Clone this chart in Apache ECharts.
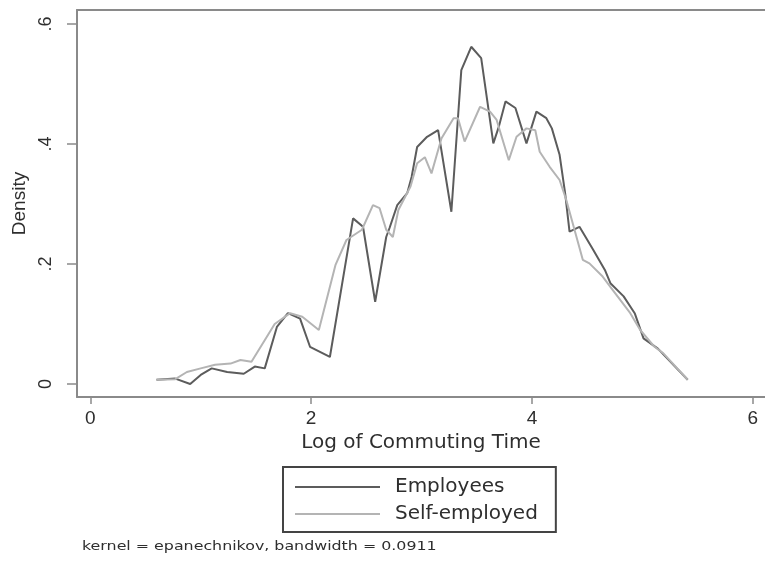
<!DOCTYPE html>
<html>
<head>
<meta charset="utf-8">
<script src="https://cdn.jsdelivr.net/npm/echarts@6/dist/echarts.min.js"></script>
<style>
  html, body { margin: 0; padding: 0; background: #fff; }
  #chart { width: 765px; height: 568px; }
</style>
</head>
<body>
<div id="chart"></div>
<script>
// data
var empX = [0.60, 0.77, 0.905, 1.00, 1.10, 1.24, 1.39, 1.49, 1.58, 1.69, 1.79, 1.90, 1.99, 2.17, 2.38, 2.47, 2.58, 2.68, 2.71, 2.78, 2.87, 2.91, 2.96, 3.05, 3.15, 3.27, 3.36, 3.45, 3.54, 3.65, 3.70, 3.76, 3.85, 3.95, 4.04, 4.13, 4.18, 4.25, 4.30, 4.34, 4.43, 4.55, 4.66, 4.71, 4.83, 4.93, 5.01, 5.14, 5.41];
var empY = [0.007, 0.009, 0.000, 0.015, 0.026, 0.020, 0.017, 0.029, 0.026, 0.095, 0.118, 0.109, 0.062, 0.045, 0.276, 0.262, 0.137, 0.245, 0.260, 0.298, 0.318, 0.345, 0.395, 0.412, 0.423, 0.287, 0.523, 0.562, 0.543, 0.401, 0.429, 0.471, 0.460, 0.401, 0.454, 0.443, 0.426, 0.382, 0.318, 0.254, 0.262, 0.225, 0.190, 0.168, 0.146, 0.118, 0.076, 0.059, 0.007];

var selfX = [0.60, 0.77, 0.875, 1.00, 1.13, 1.27, 1.36, 1.46, 1.57, 1.67, 1.81, 1.92, 2.07, 2.22, 2.32, 2.46, 2.56, 2.62, 2.68, 2.74, 2.79, 2.90, 2.96, 3.03, 3.09, 3.18, 3.29, 3.33, 3.39, 3.53, 3.62, 3.68, 3.79, 3.86, 3.95, 4.03, 4.07, 4.16, 4.25, 4.31, 4.46, 4.52, 4.64, 4.73, 4.89, 4.98, 5.11, 5.19, 5.41];
var selfY = [0.007, 0.008, 0.020, 0.026, 0.032, 0.034, 0.040, 0.037, 0.070, 0.100, 0.118, 0.112, 0.090, 0.198, 0.240, 0.257, 0.298, 0.293, 0.257, 0.245, 0.290, 0.329, 0.368, 0.378, 0.351, 0.409, 0.443, 0.443, 0.404, 0.462, 0.454, 0.440, 0.373, 0.412, 0.426, 0.423, 0.387, 0.362, 0.340, 0.307, 0.207, 0.201, 0.179, 0.157, 0.118, 0.090, 0.062, 0.051, 0.007];

var xTicks = [0, 2, 4, 6];
var yTicks = [0, 0.2, 0.4, 0.6];
var seriesNames = ['Employees', 'Self-employed'];

function zip(xs, ys) {
  return xs.map(function (x, i) { return [x, ys[i]]; });
}

var chart = echarts.init(document.getElementById('chart'));
var axisGray = '#8a8a8a';
var textGray = '#2e2e2e';

var option = {
  animation: false,
  grid: { left: 77, top: 10, right: 0, bottom: 171 },
  xAxis: [{
    type: 'value', min: -0.12, max: 6.11,
    axisLine: { show: true, onZero: false, lineStyle: { color: axisGray, width: 2 } },
    axisTick: { show: true, customValues: xTicks, length: 7, lineStyle: { color: axisGray, width: 1.5 } },
    axisLabel: { customValues: xTicks, fontSize: 19, color: textGray, margin: 12, fontFamily: 'Liberation Sans' },
    splitLine: { show: false },
    name: 'Log of Commuting Time', nameLocation: 'middle', nameGap: 34,
    nameTextStyle: { fontSize: 20, color: textGray, fontFamily: 'DejaVu Sans' }
  }, {
    // top frame line only
    type: 'value', position: 'top', min: -0.12, max: 6.11,
    axisLine: { show: true, onZero: false, lineStyle: { color: axisGray, width: 2 } },
    axisTick: { show: false }, axisLabel: { show: false }, splitLine: { show: false }
  }],
  yAxis: {
    type: 'value', min: -0.0217, max: 0.6233,
    axisLine: { show: true, onZero: false, lineStyle: { color: axisGray, width: 2 } },
    axisTick: { show: true, customValues: yTicks, length: 10, lineStyle: { color: axisGray, width: 1.5 } },
    axisLabel: {
      customValues: yTicks, rotate: 90, fontSize: 18, color: textGray, margin: 22,
      fontFamily: 'Liberation Sans',
      formatter: function (v) { return v === 0 ? '0' : String(v).replace('0.', '.'); }
    },
    splitLine: { show: false },
    name: 'Density', nameLocation: 'middle', nameGap: 38,
    nameTextStyle: { fontSize: 19, color: textGray, fontFamily: 'Liberation Sans' }
  },
  legend: {
    data: seriesNames,
    orient: 'vertical', left: 283, top: 467,
    icon: 'rect', itemWidth: 85, itemHeight: 2, itemGap: 7,
    padding: [10, 18, 8, 12],
    borderColor: '#444', borderWidth: 2,
    selectedMode: false,
    textStyle: { fontSize: 20, color: textGray, fontFamily: 'DejaVu Sans', padding: [0, 0, 0, 10] }
  },
  graphic: [{
    type: 'text', x: 82, y: 541, scaleX: 1.32,
    style: {
      text: 'kernel = epanechnikov, bandwidth = 0.0911',
      fontSize: 12, fill: textGray, fontFamily: 'DejaVu Sans', textVerticalAlign: 'top'
    }
  }],
  series: [
    {
      name: seriesNames[0], type: 'line', showSymbol: false,
      data: zip(empX, empY),
      color: '#5c5c5c',
      lineStyle: { width: 2, color: '#5c5c5c' }
    },
    {
      name: seriesNames[1], type: 'line', showSymbol: false,
      data: zip(selfX, selfY),
      color: '#b4b4b4',
      lineStyle: { width: 2, color: '#b4b4b4' }
    }
  ]
};

chart.setOption(option);
</script>
</body>
</html>
